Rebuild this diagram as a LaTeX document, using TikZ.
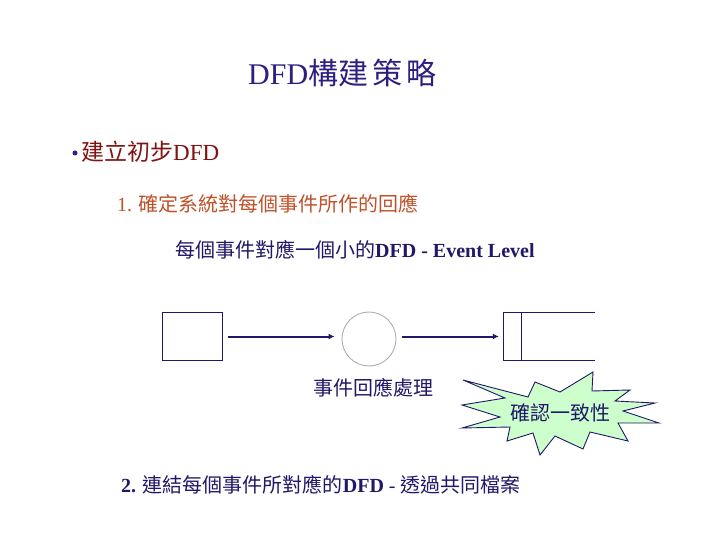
\documentclass[tikz,border=0pt]{standalone}
\usepackage{fontspec}
\setmainfont{Liberation Serif}
\newfontfamily\cjk{Noto Sans CJK TC}
\usetikzlibrary{arrows.meta}
\definecolor{titlecol}{RGB}{46,30,130}
\definecolor{redcol}{RGB}{128,18,18}
\definecolor{orangecol}{RGB}{192,82,42}
\definecolor{navy}{RGB}{32,24,104}
\definecolor{bulletcol}{RGB}{40,30,160}
\definecolor{circgray}{RGB}{175,175,175}
\definecolor{starfill}{RGB}{204,255,204}
\tikzset{
  txt/.style={inner sep=0pt, anchor=west, font=\fontsize{20pt}{24pt}\selectfont},
  flow/.style={navy, line width=2pt, -{Latex[length=6pt,width=6pt]}},
  entbox/.style={draw=navy, line width=1pt, minimum width=60pt, minimum height=48pt, inner sep=0pt},
  procc/.style={draw=circgray, line width=0.9pt, circle, minimum size=54pt, inner sep=0pt},
  storebox/.style={minimum width=91pt, minimum height=48pt, inner sep=0pt}
}
\begin{document}
\begin{tikzpicture}[x=1pt,y=-1pt]
\useasboundingbox (0,0) rectangle (720,540);
\fill[white] (0,0) rectangle (720,540);

% title
\node[inner sep=0pt, anchor=west, text=titlecol, font=\fontsize{30pt}{34pt}\selectfont] (title) at (248,73)
  {DFD{\cjk 構建\hspace{4pt}策\hspace{4pt}略}};

% bullet line
\node[fill=bulletcol, circle, inner sep=0pt, minimum size=5pt] (bul) at (75,153) {};
\node[inner sep=0pt, anchor=west, text=redcol, font=\fontsize{23pt}{27pt}\selectfont] (b1) at (81,152)
  {{\cjk 建立初步}DFD};

% step 1
\node[txt, text=orangecol] (s1) at (117,204) {1. {\cjk 確定系統對每個事件所作的回應}};

% event level
\node[txt, text=navy] (ev) at (175,250) {{\cjk 每個事件對應一個小的}\textbf{DFD - Event Level}};

% diagram
\node[entbox] (ent) at (192.5,336.5) {};
\node[procc] (proc) at (369,339) {};
\node[storebox] (store) at (549.5,336.5) {};
\draw[navy, line width=1pt] (store.north east) -- (store.north west) -- (store.south west) -- (store.south east);
\draw[navy, line width=1pt] ([xshift=18pt]store.north west) -- ([xshift=18pt]store.south west);

\draw[flow] ([xshift=5pt]ent.east) -- ([xshift=-7pt,yshift=2.5pt]proc.west);
\draw[flow] ([xshift=6pt,yshift=2.5pt]proc.east) -- ([xshift=-5pt]store.west);

\node[txt, anchor=center, text=navy] (plabel) at (373,388) {\cjk 事件回應處理};

% starburst
\draw[navy, line width=0.9pt, fill=starfill]
  (463,380) -- (528,397) -- (535,382) -- (560,392) -- (593,372) -- (592,391)
  -- (630,390) -- (615,401) -- (655,403) -- (623,411) -- (659,423) -- (618,423)
  -- (628,441) -- (590,432) -- (583,449) -- (555,436) -- (540,455) -- (533,433)
  -- (507,441) -- (510,427) -- (462,428) -- (500,417) -- (462,405) -- (505,398) -- cycle;
\node[txt, anchor=center, text=navy] (star) at (560,413) {\cjk 確認一致性};

% step 2
\node[txt, text=navy] (s2) at (121,485) {\textbf{2.} {\cjk 連結每個事件所對應的}\textbf{DFD} - {\cjk 透過共同檔案}};
\end{tikzpicture}
\end{document}
